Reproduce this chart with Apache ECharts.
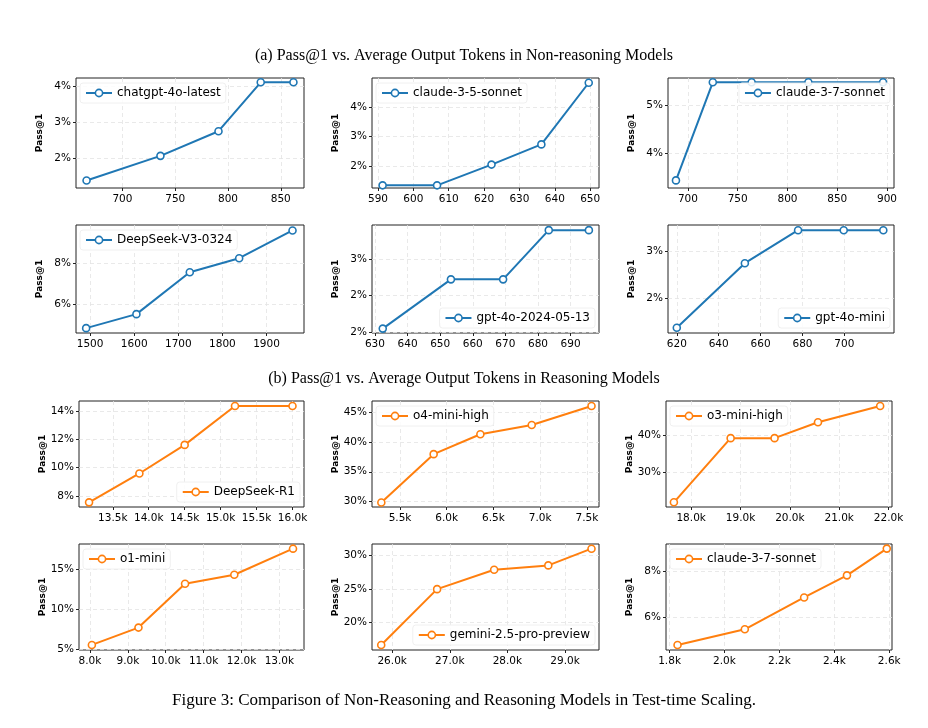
<!DOCTYPE html>
<html>
<head>
<meta charset="utf-8">
<title>Test-time Scaling</title>
<script src="https://cdn.jsdelivr.net/npm/echarts@6/dist/echarts.min.js"></script>
<style>
  html, body { margin: 0; padding: 0; background: #fff; }
  #main { width: 928px; height: 728px; }
</style>
</head>
<body>
<div id="main"></div>
<script>
// ---- data ----
var chatgptX = [666, 736, 791, 831, 862];
var chatgptY = [1.37, 2.06, 2.75, 4.12, 4.12];
var claude35X = [591.3, 606.7, 622.1, 636.2, 649.6];
var claude35Y = [1.36, 1.36, 2.06, 2.74, 4.82];
var claude37X = [688, 725, 764, 821, 896];
var claude37Y = [3.43, 5.49, 5.49, 5.49, 5.49];
var dsv3X = [1491, 1605, 1726, 1838, 1959];
var dsv3Y = [4.80, 5.49, 7.56, 8.25, 9.62];
var gpt4oX = [632.4, 653.3, 669.3, 683.3, 695.6];
var gpt4oY = [2.05, 2.72, 2.72, 3.39, 3.39];
var gpt4oMiniX = [620, 652.5, 677.9, 699.7, 718.6];
var gpt4oMiniY = [1.37, 2.74, 3.44, 3.44, 3.44];

var dsr1X = [13.17, 13.87, 14.50, 15.20, 16.00];
var dsr1Y = [7.53, 9.59, 11.63, 14.40, 14.40];
var o4X = [5.30, 5.86, 6.36, 6.91, 7.55];
var o4Y = [29.8, 37.98, 41.35, 42.92, 46.12];
var o3X = [17.65, 18.80, 19.69, 20.57, 21.83];
var o3Y = [21.9, 39.3, 39.3, 43.6, 48.0];
var o1X = [8.05, 9.28, 10.51, 11.81, 13.36];
var o1Y = [5.51, 7.70, 13.23, 14.37, 17.66];
var geminiX = [25.81, 26.78, 27.77, 28.71, 29.46];
var geminiY = [16.6, 24.95, 27.85, 28.5, 31.0];
var claude37rX = [1.829, 2.074, 2.290, 2.446, 2.591];
var claude37rY = [4.81, 5.49, 6.87, 7.83, 8.99];

// tick values
var xt1 = [700, 750, 800, 850];
var xt2 = [590, 600, 610, 620, 630, 640, 650];
var xt3 = [700, 750, 800, 850, 900];
var xt4 = [1500, 1600, 1700, 1800, 1900];
var xt5 = [630, 640, 650, 660, 670, 680, 690];
var xt6 = [620, 640, 660, 680, 700];
var xt7 = [13.5, 14.0, 14.5, 15.0, 15.5, 16.0];
var xt8 = [5.5, 6.0, 6.5, 7.0, 7.5];
var xt9 = [18, 19, 20, 21, 22];
var xt10 = [8, 9, 10, 11, 12, 13];
var xt11 = [26, 27, 28, 29];
var xt12 = [1.8, 2.0, 2.2, 2.4, 2.6];
var yt1 = [2, 3, 4], yt2 = [2, 3, 4], yt3 = [4, 5], yt4 = [6, 8];
var yt5 = [2, 2.5, 3], yt5Labels = ['2%', '2%', '3%'];
var yt6 = [2, 3], yt7 = [8, 10, 12, 14], yt8 = [30, 35, 40, 45];
var yt9 = [30, 40], yt10 = [5, 10, 15], yt11 = [20, 25, 30], yt12 = [6, 8];

var BLUE = '#1f77b4', ORANGE = '#ff7f0e';

// panel layout: [left, right] per column, [top, bottom] per row
var rows = [[78, 188], [225, 333], [401, 507], [544, 650]];
var colsTop = [[76, 304], [372, 599], [668, 894]];
var colsBot = [[79, 304], [372, 599], [666, 892]];

var panels = [
  {name: 'chatgpt-4o-latest', x: chatgptX, y: chatgptY, xr: [656, 872], yr: [1.16, 4.24], xt: xt1, yt: yt1, k: false, leg: 'tl', c: BLUE},
  {name: 'claude-3-5-sonnet', x: claude35X, y: claude35Y, xr: [588.3, 652.5], yr: [1.27, 4.98], xt: xt2, yt: yt2, k: false, leg: 'tl', c: BLUE},
  {name: 'claude-3-7-sonnet', x: claude37X, y: claude37Y, xr: [680, 907], yr: [3.27, 5.58], xt: xt3, yt: yt3, k: false, leg: 'tr', c: BLUE},
  {name: 'DeepSeek-V3-0324', x: dsv3X, y: dsv3Y, xr: [1468, 1985], yr: [4.56, 9.89], xt: xt4, yt: yt4, k: false, leg: 'tl', c: BLUE},
  {name: 'gpt-4o-2024-05-13', x: gpt4oX, y: gpt4oY, xr: [629.1, 698.7], yr: [1.99, 3.46], xt: xt5, yt: yt5, ytl: yt5Labels, k: false, leg: 'br', c: BLUE},
  {name: 'gpt-4o-mini', x: gpt4oMiniX, y: gpt4oMiniY, xr: [615.8, 723.7], yr: [1.26, 3.55], xt: xt6, yt: yt6, k: false, leg: 'br', c: BLUE},
  {name: 'DeepSeek-R1', x: dsr1X, y: dsr1Y, xr: [13.03, 16.16], yr: [7.2, 14.76], xt: xt7, yt: yt7, k: true, leg: 'br', c: ORANGE},
  {name: 'o4-mini-high', x: o4X, y: o4Y, xr: [5.20, 7.63], yr: [29.04, 46.97], xt: xt8, yt: yt8, k: true, leg: 'tl', c: ORANGE},
  {name: 'o3-mini-high', x: o3X, y: o3Y, xr: [17.49, 22.07], yr: [20.63, 49.37], xt: xt9, yt: yt9, k: true, leg: 'tl', c: ORANGE},
  {name: 'o1-mini', x: o1X, y: o1Y, xr: [7.71, 13.65], yr: [4.87, 18.25], xt: xt10, yt: yt10, k: true, leg: 'tl', c: ORANGE},
  {name: 'gemini-2.5-pro-preview', x: geminiX, y: geminiY, xr: [25.65, 29.59], yr: [15.85, 31.7], xt: xt11, yt: yt11, k: true, leg: 'br', c: ORANGE},
  {name: 'claude-3-7-sonnet ', x: claude37rX, y: claude37rY, xr: [1.787, 2.61], yr: [4.59, 9.19], xt: xt12, yt: yt12, k: true, leg: 'tl', c: ORANGE}
];

var font = 'DejaVu Sans';
var serif = {fontFamily: 'Liberation Serif', fontWeight: 'normal', fontSize: 16, color: '#000'};
var option = {
  backgroundColor: '#fff',
  animation: false,
  title: [
    {text: '(a) Pass@1 vs. Average Output Tokens in Non-reasoning Models', left: 'center', top: 43, textStyle: serif},
    {text: '(b) Pass@1 vs. Average Output Tokens in Reasoning Models', left: 'center', top: 366, textStyle: serif},
    {text: 'Figure 3: Comparison of Non-Reasoning and Reasoning Models in Test-time Scaling.', left: 'center', top: 687,
     textStyle: {fontFamily: 'Liberation Serif', fontWeight: 'normal', fontSize: 17, color: '#000'}}
  ],
  grid: [], xAxis: [], yAxis: [], series: [], legend: []
};

panels.forEach(function (p, i) {
  var r = rows[Math.floor(i / 3)];
  var c = (i < 6 ? colsTop : colsBot)[i % 3];
  option.grid.push({left: c[0], top: r[0], width: c[1] - c[0], height: r[1] - r[0],
    show: true, borderColor: '#222', borderWidth: 1, backgroundColor: 'transparent'});
  option.xAxis.push({
    type: 'value', gridIndex: i, min: p.xr[0], max: p.xr[1],
    axisLine: {show: false},
    axisTick: {show: true, customValues: p.xt, length: 3, lineStyle: {color: '#222'}},
    axisLabel: {customValues: p.xt, fontFamily: font, fontSize: 10.5, color: '#000', margin: 6,
      formatter: function (v) { return p.k ? v.toFixed(1) + 'k' : String(v); }},
    splitLine: {show: true, lineStyle: {color: '#e3e3e3', type: [4, 3], width: 0.8}}
  });
  option.yAxis.push({
    type: 'value', gridIndex: i, min: p.yr[0], max: p.yr[1],
    name: 'Pass@1', nameLocation: 'middle', nameGap: 32,
    nameTextStyle: {fontFamily: font, fontWeight: 'bold', fontSize: 9, color: '#000'},
    axisLine: {show: false},
    axisTick: {show: true, customValues: p.yt, length: 3, lineStyle: {color: '#222'}},
    axisLabel: {customValues: p.yt, fontFamily: font, fontSize: 10.5, color: '#000', margin: 5,
      formatter: function (v) {
        if (p.ytl) return p.ytl[p.yt.indexOf(v)];
        return Math.round(v) + '%';
      }},
    splitLine: {show: true, lineStyle: {color: '#e3e3e3', type: [4, 3], width: 0.8}}
  });
  option.series.push({
    name: p.name, type: 'line', xAxisIndex: i, yAxisIndex: i,
    data: p.x.map(function (x, j) { return [x, p.y[j]]; }),
    symbol: 'circle', symbolSize: 7,
    lineStyle: {color: p.c, width: 2},
    itemStyle: {color: '#fff', borderColor: p.c, borderWidth: 1.6},
    z: 3
  });
  var leg = {
    data: [{name: p.name, itemStyle: {color: '#fff', borderColor: p.c, borderWidth: 1.6}, lineStyle: {color: p.c, width: 2}}],
    formatter: function (n) { return n.trim(); },
    orient: 'horizontal', itemWidth: 26, itemHeight: 9, itemGap: 6,
    padding: [4, 5], backgroundColor: 'rgba(255,255,255,0.85)', borderColor: '#f0f0f0', borderWidth: 1, borderRadius: 3,
    textStyle: {fontFamily: font, fontSize: 12, color: '#000'}, selectedMode: false
  };
  if (p.leg === 'tl') { leg.left = c[0] + 4; leg.top = r[0] + 5; }
  else if (p.leg === 'tr') { leg.right = 928 - c[1] + 4; leg.top = r[0] + 5; }
  else { leg.right = 928 - c[1] + 4; leg.bottom = 728 - r[1] + 5; }
  option.legend.push(leg);
});

var chart = echarts.init(document.getElementById('main'));
chart.setOption(option);
window.onresize = chart.resize;
</script>
</body>
</html>
